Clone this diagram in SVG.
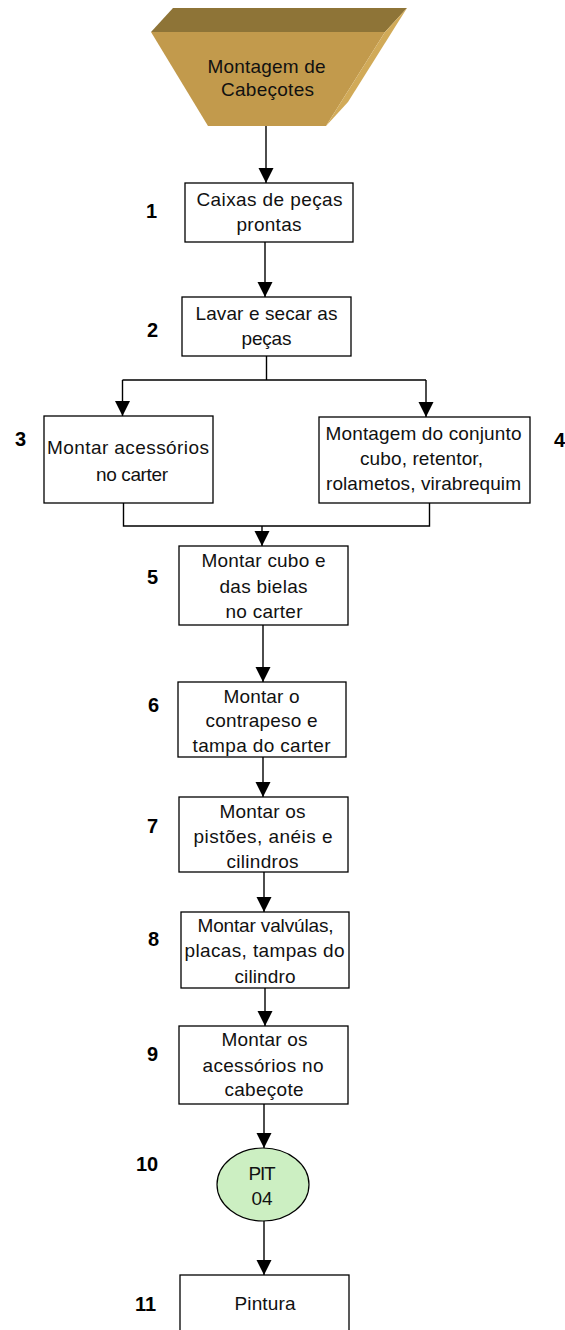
<svg xmlns="http://www.w3.org/2000/svg" width="565" height="1330" viewBox="0 0 565 1330">
  <defs>
    <marker id="arrow" markerUnits="userSpaceOnUse" markerWidth="16" markerHeight="16" refX="15" refY="7.5" orient="auto">
      <path d="M0,0 L15,7.5 L0,15 Z" fill="#000"/>
    </marker>
    <style>
      .box { fill: #fff; stroke: #000; stroke-width: 1.3; }
      .lbl { font-family: "Liberation Sans", Arial, sans-serif; font-size: 19px; fill: #111; text-anchor: middle; }
      .num { font-family: "Liberation Sans", Arial, sans-serif; font-size: 20px; font-weight: bold; fill: #000; }
      .wire { fill: none; stroke: #000; stroke-width: 1.4; }
      .wire.arr { marker-end: url(#arrow); }
    </style>
  </defs>
  <rect width="565" height="1330" fill="#fff"/>

  <!-- start: bevelled trapezoid -->
  <g id="start">
    <polygon points="173,8 407,8 385,32 151,32" fill="#8E7437"/>
    <polygon points="151,32 385,32 326,126 208,126" fill="#C29A4C"/>
    <polygon points="385,32 407,8 348,102 326,126" fill="#D1AA58"/>
    <text class="lbl" x="266.5" y="73" textLength="118" lengthAdjust="spacing">Montagem de</text>
    <text class="lbl" x="267.5" y="96" textLength="93" lengthAdjust="spacing">Cabeçotes</text>
  </g>

  <g id="step1">
    <rect class="box" x="185" y="183" width="168" height="59"/>
    <text class="lbl" x="269.5" y="206" textLength="146" lengthAdjust="spacing">Caixas de peças</text>
    <text class="lbl" x="269" y="231" textLength="65" lengthAdjust="spacing">prontas</text>
    <text class="num" x="146" y="218">1</text>
  </g>

  <g id="step2">
    <rect class="box" x="182" y="297" width="169" height="59"/>
    <text class="lbl" x="266.5" y="320" textLength="142" lengthAdjust="spacing">Lavar e secar as</text>
    <text class="lbl" x="266.5" y="345" textLength="50" lengthAdjust="spacing">peças</text>
    <text class="num" x="147" y="337">2</text>
  </g>

  <g id="step3">
    <rect class="box" x="44" y="416" width="169" height="87"/>
    <text class="lbl" x="128" y="454" textLength="162" lengthAdjust="spacing">Montar acessórios</text>
    <text class="lbl" x="132" y="481" textLength="72" lengthAdjust="spacing">no carter</text>
    <text class="num" x="15" y="446">3</text>
  </g>

  <g id="step4">
    <rect class="box" x="319" y="417" width="211" height="86"/>
    <text class="lbl" x="423.5" y="440" textLength="196" lengthAdjust="spacing">Montagem do conjunto</text>
    <text class="lbl" x="421.5" y="465" textLength="123" lengthAdjust="spacing">cubo, retentor,</text>
    <text class="lbl" x="423.5" y="490" textLength="195" lengthAdjust="spacing">rolametos, virabrequim</text>
    <text class="num" x="554" y="447">4</text>
  </g>

  <g id="step5">
    <rect class="box" x="179" y="546" width="169" height="79"/>
    <text class="lbl" x="263.5" y="567" textLength="124" lengthAdjust="spacing">Montar cubo e</text>
    <text class="lbl" x="263.5" y="593" textLength="88" lengthAdjust="spacing">das bielas</text>
    <text class="lbl" x="264" y="618" textLength="77" lengthAdjust="spacing">no carter</text>
    <text class="num" x="147" y="584">5</text>
  </g>

  <g id="step6">
    <rect class="box" x="178" y="682" width="168" height="75"/>
    <text class="lbl" x="261.5" y="703" textLength="76" lengthAdjust="spacing">Montar o</text>
    <text class="lbl" x="261.5" y="727" textLength="112" lengthAdjust="spacing">contrapeso e</text>
    <text class="lbl" x="261.5" y="752" textLength="138" lengthAdjust="spacing">tampa do carter</text>
    <text class="num" x="148" y="712">6</text>
  </g>

  <g id="step7">
    <rect class="box" x="179" y="797" width="169" height="75"/>
    <text class="lbl" x="262.5" y="818" textLength="86" lengthAdjust="spacing">Montar os</text>
    <text class="lbl" x="263" y="843" textLength="139" lengthAdjust="spacing">pistões, anéis e</text>
    <text class="lbl" x="262.5" y="868" textLength="72" lengthAdjust="spacing">cilindros</text>
    <text class="num" x="147" y="833">7</text>
  </g>

  <g id="step8">
    <rect class="box" x="181" y="912" width="168" height="76"/>
    <text class="lbl" x="265.5" y="932" textLength="136" lengthAdjust="spacing">Montar valvúlas,</text>
    <text class="lbl" x="264.5" y="957" textLength="160" lengthAdjust="spacing">placas, tampas do</text>
    <text class="lbl" x="265" y="983" textLength="61" lengthAdjust="spacing">cilindro</text>
    <text class="num" x="148" y="946">8</text>
  </g>

  <g id="step9">
    <rect class="box" x="179" y="1026" width="169" height="78"/>
    <text class="lbl" x="264.5" y="1046" textLength="86" lengthAdjust="spacing">Montar os</text>
    <text class="lbl" x="263" y="1072" textLength="121" lengthAdjust="spacing">acessórios no</text>
    <text class="lbl" x="264" y="1096" textLength="79" lengthAdjust="spacing">cabeçote</text>
    <text class="num" x="147" y="1061">9</text>
  </g>

  <g id="step10">
    <ellipse cx="263" cy="1184.5" rx="46" ry="36.5" fill="#CCEFC2" stroke="#000" stroke-width="1.2"/>
    <text class="lbl" x="262" y="1180" textLength="27" lengthAdjust="spacing">PIT</text>
    <text class="lbl" x="262" y="1205" textLength="21" lengthAdjust="spacing">04</text>
    <text class="num" x="136" y="1171">10</text>
  </g>

  <g id="step11">
    <rect class="box" x="180" y="1275" width="169" height="70"/>
    <text class="lbl" x="265" y="1310" textLength="61" lengthAdjust="spacing">Pintura</text>
    <text class="num" x="135" y="1311">11</text>
  </g>

  <!-- connectors -->
  <g id="connectors">
    <path class="wire arr" d="M266,126 V183"/>
    <path class="wire arr" d="M265,242 V297"/>
    <path class="wire" d="M266.5,356 V380 M122.5,380 H426"/>
    <path class="wire arr" d="M122.5,380 V416"/>
    <path class="wire arr" d="M426,380 V417"/>
    <path class="wire" d="M123.5,503 V526 H429.5 V503"/>
    <path class="wire arr" d="M262,526 V546"/>
    <path class="wire arr" d="M263,625 V682"/>
    <path class="wire arr" d="M263,757 V797"/>
    <path class="wire arr" d="M264,872 V912"/>
    <path class="wire arr" d="M265,988 V1026"/>
    <path class="wire arr" d="M264,1104 V1148"/>
    <path class="wire arr" d="M264,1221 V1275"/>
  </g>
</svg>
